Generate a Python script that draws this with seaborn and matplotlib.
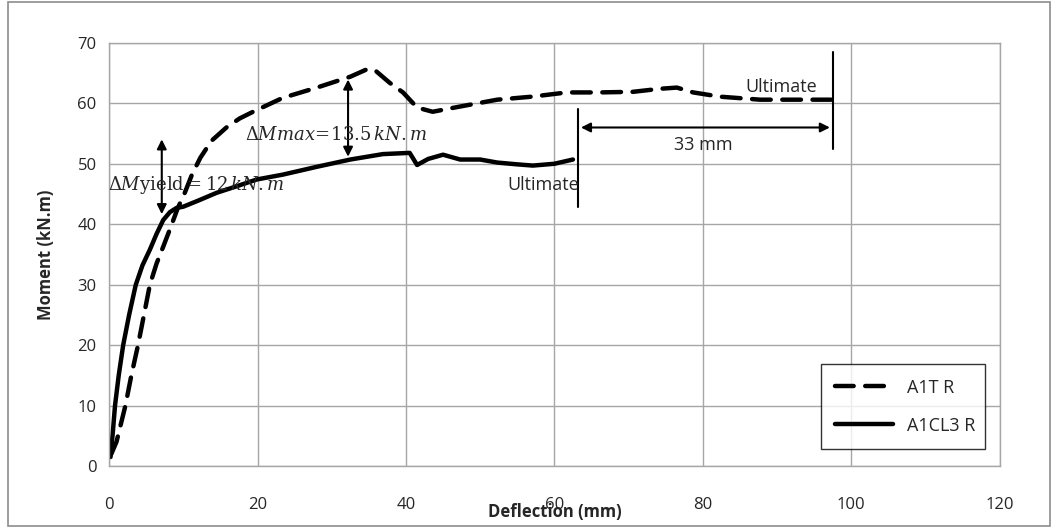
import numpy as np
import pandas as pd
import seaborn as sns
import matplotlib.pyplot as plt
from matplotlib.patches import Rectangle

# A1T R (dashed)
a1t_defl = [0.3, 1.0, 1.6, 2.2, 3.0, 3.9, 4.7, 5.5, 6.4, 7.3, 8.3, 9.2, 10.2, 11.2, 12.3, 13.8, 15.9,
            17.6, 19.4, 23.4, 28.0, 32.5, 34.7, 35.8, 37.8, 39.6, 41.5, 43.6, 47.0, 52.3, 57.0,
            61.7, 66.0, 70.6, 74.2, 76.5, 78.7, 82.3, 87.7, 92.0, 97.5]
a1t_moment = [2.0, 4.0, 7.0, 10.0, 15.0, 20.0, 25.0, 30.0, 33.5, 36.3, 39.5, 42.5, 45.2, 48.3, 51.0,
              53.8, 56.1, 57.5, 58.6, 60.9, 62.6, 64.4, 65.6, 65.5, 63.4, 61.8, 59.3, 58.6, 59.4,
              60.6, 61.1, 61.8, 61.8, 61.9, 62.4, 62.6, 61.8, 61.1, 60.6, 60.6, 60.6]

# A1CL3 R (solid)
a1cl3_defl = [0.2, 0.5, 0.8, 1.3, 1.9, 2.7, 3.6, 4.5, 5.5, 6.4, 7.3, 8.2, 9.1, 10.0, 12.0, 14.5, 17.0,
              19.9, 23.4, 28.0, 32.5, 36.9, 40.5, 41.5, 43.0, 45.0, 47.3, 50.0, 52.3, 55.0, 57.1,
              60.0, 62.5]
a1cl3_moment = [1.5, 5.5, 10.0, 15.0, 20.0, 25.0, 30.0, 33.2, 35.8, 38.4, 40.7, 42.0, 42.7, 42.9,
                43.9, 45.2, 46.2, 47.4, 48.2, 49.5, 50.7, 51.6, 51.8, 49.8, 50.8, 51.5, 50.7, 50.7,
                50.2, 49.9, 49.7, 50.0, 50.7]

x_ticks = [0, 20, 40, 60, 80, 100, 120]
y_ticks = [0, 10, 20, 30, 40, 50, 60, 70]

sns.set_style("whitegrid", {'grid.color': '#a6a6a6', 'axes.edgecolor': '#a6a6a6'})
plt.rcParams['font.family'] = ['Open Sans', 'DejaVu Sans']
plt.rcParams['mathtext.fontset'] = 'dejavuserif'

fig = plt.figure(figsize=(10.59, 5.29), dpi=100)
ax = fig.add_axes([0.103, 0.119, 0.841, 0.800])

df_t = pd.DataFrame({'defl': a1t_defl, 'moment': a1t_moment})
df_c = pd.DataFrame({'defl': a1cl3_defl, 'moment': a1cl3_moment})
sns.lineplot(data=df_t, x='defl', y='moment', ax=ax, color='black', lw=3.2, sort=False,
             label='A1T R', linestyle=(0, (4.2, 2.6)))
sns.lineplot(data=df_c, x='defl', y='moment', ax=ax, color='black', lw=3.2, sort=False,
             label='A1CL3 R')
ax.lines[0].set_dash_capstyle('round')

ax.set_xlim(0, 120)
ax.set_ylim(0, 70)
ax.set_xticks(x_ticks)
ax.set_yticks(y_ticks)
ax.tick_params(axis='x', labelsize=12, length=0, pad=22)
ax.tick_params(axis='y', labelsize=12, length=0, pad=9)
ax.grid(True, lw=1)
for s in ax.spines.values():
    s.set_linewidth(1)

ax.set_xlabel('Deflection (mm)', fontsize=12, weight='bold', labelpad=-7)
ax.set_ylabel('Moment (kN.m)', fontsize=12, weight='bold', labelpad=16)

# annotations
arrow = dict(arrowstyle='<|-|>', color='black', lw=1.5, mutation_scale=14)
ax.annotate('', xy=(7.1, 41.2), xytext=(7.1, 54.5), arrowprops=arrow)
ax.annotate('', xy=(32.2, 50.7), xytext=(32.2, 64.4), arrowprops=arrow)
ax.text(-0.1, 46.5, r'$\Delta M$yield$=12\,kN.m$', fontsize=13, va='center', ha='left',
        family=['DejaVu Serif'])
ax.text(18.3, 54.8, r'$\Delta Mmax\!=\!13.5\,kN.m$', fontsize=13, va='center', ha='left')
ax.plot([63.2, 63.2], [42.9, 59.0], color='black', lw=1.5)
ax.plot([97.5, 97.5], [52.5, 68.5], color='black', lw=1.5)
ax.annotate('', xy=(63.2, 56.0), xytext=(97.5, 56.0), arrowprops=arrow)
ax.text(80, 53.1, '33 mm', fontsize=13, va='center', ha='center')
ax.text(53.7, 46.5, 'Ultimate', fontsize=13, va='center', ha='left')
ax.text(85.7, 62.7, 'Ultimate', fontsize=13, va='center', ha='left')

leg = ax.legend(loc='lower left', bbox_to_anchor=(0.799, 0.04, 0.184, 0.208), mode='expand',
                borderaxespad=0, fontsize=13, frameon=True, fancybox=False, edgecolor='black',
                handlelength=3.2, labelspacing=1.1, borderpad=0.8)
leg.get_frame().set_linewidth(1)

fig.patches.append(Rectangle((8 / 1059, 3 / 529), 1042 / 1059, 524 / 529, transform=fig.transFigure,
                             fill=False, edgecolor='#8c8c8c', lw=1.2))

fig.savefig('out.png', dpi=100)
